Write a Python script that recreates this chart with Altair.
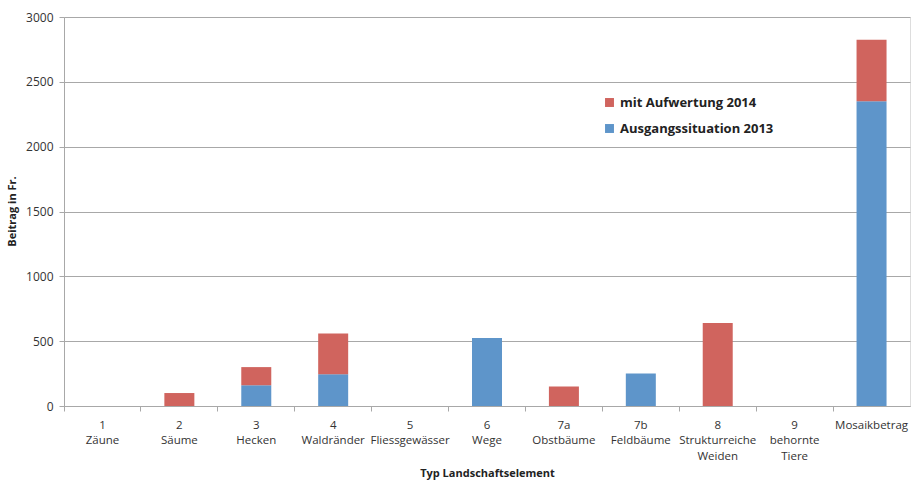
import altair as alt
import pandas as pd

# Landscape element categories (number | name, "|" marks a line break)
categories = [
    "1|Zäune", "2|Säume", "3|Hecken", "4|Waldränder", "5|Fliessgewässer",
    "6|Wege", "7a|Obstbäume", "7b|Feldbäume", "8|Strukturreiche|Weiden",
    "9|behornte|Tiere", "Mosaikbetrag",
]
# Contribution in Fr. for the 2013 baseline
base_2013 = [0, 0, 160, 245, 0, 525, 0, 250, 0, 0, 2350]
# Additional contribution after the 2014 upgrade
upgrade_2014 = [0, 100, 140, 315, 0, 0, 150, 0, 640, 0, 475]

series_names = ["mit Aufwertung 2014", "Ausgangssituation 2013"]
series_colors = ["#d0645e", "#5e95ca"]

rows = []
for cat, b, u in zip(categories, base_2013, upgrade_2014):
    rows.append({"kat": cat, "wert": b, "serie": series_names[1], "stapel": 0})
    rows.append({"kat": cat, "wert": u, "serie": series_names[0], "stapel": 1})
df = pd.DataFrame(rows)

font = "Open Sans"
grid_col = "#a8a8a8"

chart = (
    alt.Chart(df)
    .mark_bar(size=30)
    .encode(
        x=alt.X(
            "kat:N",
            sort=categories,
            scale=alt.Scale(paddingInner=0, paddingOuter=0),
            axis=alt.Axis(
                title="Typ Landschaftselement",
                labelAngle=0,
                labelExpr="split(datum.label, '|')",
                labelFont=font,
                labelFontSize=11.5,
                labelColor="#333333",
                labelLineHeight=15.5,
                labelPadding=8,
                labelBaseline="top",
                bandPosition=0,
                tickSize=5,
                tickColor=grid_col,
                domainColor=grid_col,
                titleFont=font,
                titleFontSize=11,
                titleFontWeight="bold",
                titleColor="#222222",
                titleY=61,
                titleBaseline="top",
            ),
        ),
        y=alt.Y(
            "wert:Q",
            stack="zero",
            scale=alt.Scale(domain=[0, 3000], nice=False),
            axis=alt.Axis(
                title="Beitrag in Fr.",
                values=[0, 500, 1000, 1500, 2000, 2500, 3000],
                format="d",
                labelFont=font,
                labelFontSize=12,
                labelColor="#333333",
                labelPadding=6,
                tickSize=5,
                tickColor=grid_col,
                domainColor=grid_col,
                gridColor=grid_col,
                titleFont=font,
                titleFontSize=11,
                titleFontWeight="bold",
                titleColor="#222222",
                titleAngle=270,
                titleAlign="center",
                titleBaseline="middle",
                titleX=-52,
                titleY=194,
            ),
        ),
        color=alt.Color(
            "serie:N",
            scale=alt.Scale(domain=series_names, range=series_colors),
            legend=alt.Legend(
                title=None,
                orient="none",
                legendX=539,
                legendY=79,
                symbolType="square",
                symbolSize=80,
                symbolStrokeWidth=0,
                rowPadding=12,
                labelFont=font,
                labelFontSize=13,
                labelFontWeight="bold",
                labelColor="#222222",
                labelOffset=4,
            ),
        ),
        order=alt.Order("stapel:Q", sort="ascending"),
    )
    .properties(
        width=846,
        height=389,
        padding={"left": 64, "top": 17, "right": 1, "bottom": 75},
        autosize=alt.AutoSizeParams(type="none"),
    )
    .configure_view(stroke=None)
    .configure(background="white")
)

chart.save("out.html", embed_options={"renderer": "svg", "actions": False})
